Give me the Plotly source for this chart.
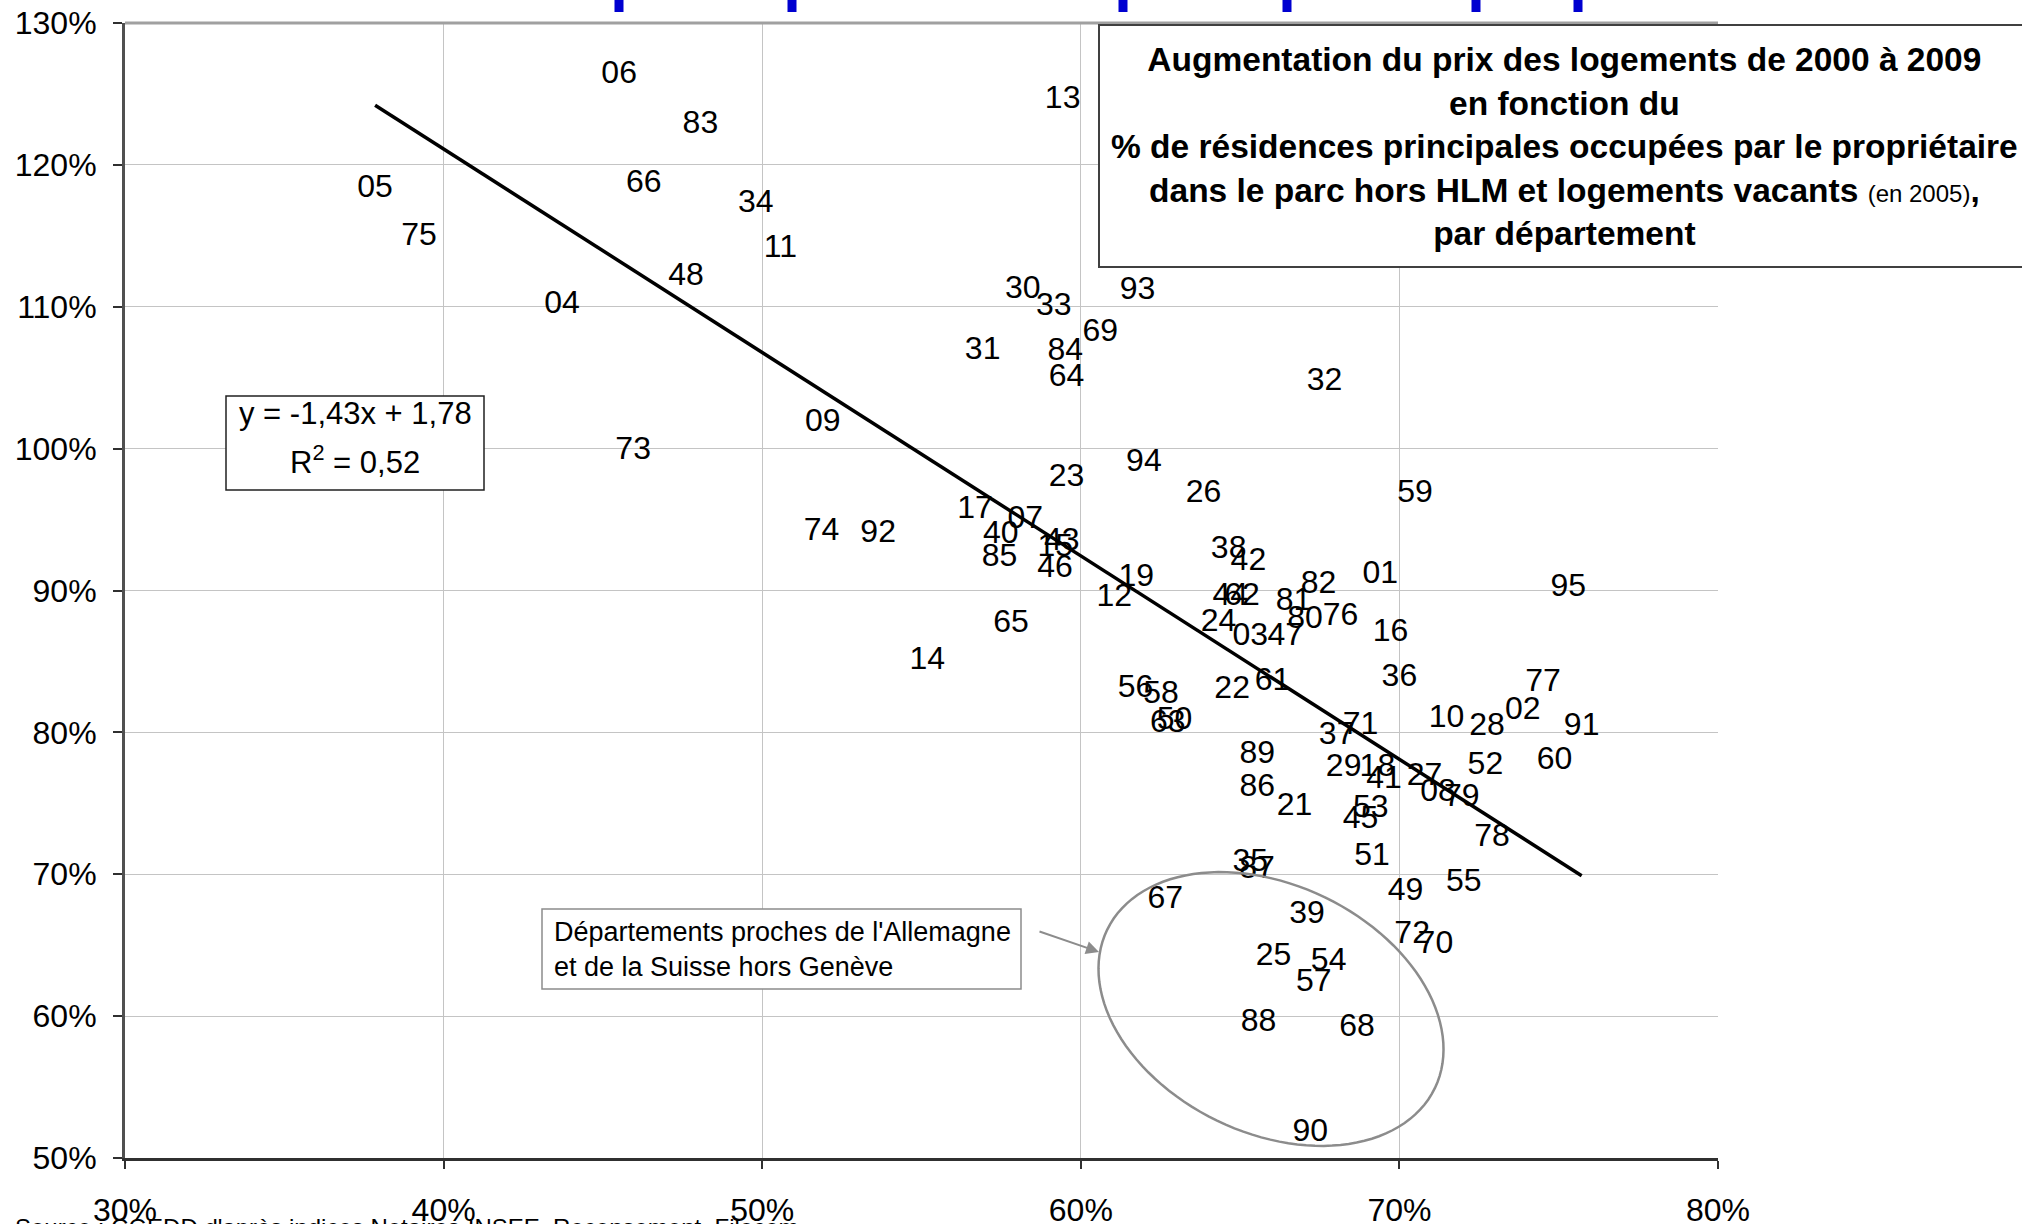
import numpy as np
import plotly.graph_objects as go

# ---------------- data ----------------
DEPTS = ["01", "02", "03", "04", "05", "06", "07", "08", "09", "10",
         "11", "12", "13", "14", "15", "16", "17", "18", "19", "21",
         "22", "23", "24", "25", "26", "27", "28", "29", "30", "31",
         "32", "33", "34", "35", "36", "37", "38", "39", "40", "41",
         "42", "43", "44", "45", "46", "47", "48", "49", "50", "51",
         "52", "53", "54", "55", "56", "57", "58", "59", "60", "61",
         "62", "63", "64", "65", "66", "67", "68", "69", "70", "71",
         "72", "73", "74", "75", "76", "77", "78", "79", "80", "81",
         "82", "83", "84", "85", "86", "87", "88", "89", "90", "91",
         "92", "93", "94", "95"]

OWNER_PCT = [69.40, 73.87, 65.32, 43.72, 37.85, 45.51, 58.26, 71.21, 51.90, 71.48,
             50.57, 61.05, 59.43, 55.18, 59.20, 69.72, 56.68, 69.31, 61.74, 66.71,
             64.75, 59.55, 64.32, 66.05, 63.85, 70.79, 72.75, 68.25, 58.18, 56.92,
             67.65, 59.15, 49.80, 65.32, 70.00, 68.03, 64.64, 67.10, 57.49, 69.52,
             65.26, 59.40, 64.69, 68.78, 59.19, 66.42, 47.61, 70.19, 62.94, 69.14,
             72.70, 69.10, 67.78, 72.02, 61.72, 67.31, 62.52, 70.49, 74.87, 66.02,
             65.06, 62.73, 59.55, 57.81, 46.28, 62.65, 68.67, 60.61, 71.13, 68.78,
             70.40, 45.95, 51.86, 39.23, 68.15, 74.51, 72.91, 71.96, 67.04, 66.68,
             67.46, 48.06, 59.51, 57.45, 65.54, 65.53, 65.58, 65.54, 67.20, 75.72,
             53.64, 61.78, 61.98, 75.30]

PRICE_RISE_PCT = [91.10, 81.54, 86.75, 110.09, 118.27, 126.36, 95.00, 75.70, 101.82, 80.94,
                  114.09, 89.45, 124.55, 85.00, 92.98, 86.99, 95.64, 77.48, 90.91, 74.75,
                  82.96, 97.91, 87.69, 64.19, 96.82, 76.88, 80.35, 77.48, 111.18, 106.91,
                  104.73, 110.00, 117.27, 70.77, 83.80, 79.75, 92.86, 67.13, 93.91, 76.65,
                  92.04, 93.45, 89.57, 73.79, 91.55, 86.75, 112.09, 68.77, 80.82, 71.24,
                  77.60, 74.63, 63.84, 69.36, 83.08, 62.31, 82.60, 96.82, 77.95, 83.55,
                  89.57, 80.58, 105.00, 87.64, 118.64, 68.18, 59.14, 108.18, 65.02, 80.45,
                  65.72, 99.82, 94.09, 114.91, 88.16, 83.45, 72.54, 75.35, 87.93, 89.22,
                  90.39, 122.82, 106.82, 92.27, 76.05, 70.30, 59.49, 78.44, 51.74, 80.35,
                  94.00, 111.09, 99.00, 90.18]

X_TICKS = [30, 40, 50, 60, 70, 80]
Y_TICKS = [50, 60, 70, 80, 90, 100, 110, 120, 130]
X_TICK_LABELS = ["30%", "40%", "50%", "60%", "70%", "80%"]
Y_TICK_LABELS = ["50%", "60%", "70%", "80%", "90%", "100%", "110%", "120%", "130%"]

# linear trend (unrounded estimates consistent with the displayed equation)
TREND_SLOPE = -1.434
TREND_INTERCEPT = 1.7848
EQ_LINE1 = "y = -1,43x + 1,78"
EQ_LINE2 = "R<sup>2</sup> = 0,52"

TITLE_LINES = [
    "<b>Augmentation du prix des logements de 2000 à 2009</b>",
    "<b>en fonction du</b>",
    "<b>% de résidences principales occupées par le propriétaire</b>",
    "<b>dans le parc hors HLM et logements vacants</b> "
    "<span style='font-size:24px'>(en 2005)</span><b>,</b>",
    "<b>par département</b>",
]
NOTE_TEXT = "Départements proches de l'Allemagne<br>et de la Suisse hors Genève"
SOURCE_TEXT = "Source : CGEDD d'après indices Notaires-INSEE, Recensement, Filocom"

# ---------------- layout geometry ----------------
W, H = 2022, 1224
L, R, T, B = 125, 1718, 23, 1158
XR = [30, 80]
YR = [50, 130]
FONT = "Liberation Sans, Arial, sans-serif"


def px_x(p):
    return XR[0] + (p - L) / (R - L) * (XR[1] - XR[0])


def px_y(p):
    return YR[1] - (p - T) / (B - T) * (YR[1] - YR[0])


def paper_x(p):
    return (p - L) / (R - L)


def paper_y(p):
    return (B - p) / (B - T)


fig = go.Figure()

# trend line
x_lo, x_hi = min(OWNER_PCT), max(OWNER_PCT)
tx = np.array([x_lo, x_hi])
ty = 100 * (TREND_SLOPE * tx / 100 + TREND_INTERCEPT)
fig.add_trace(go.Scatter(x=tx, y=ty, mode="lines",
                         line=dict(color="black", width=3.5),
                         hoverinfo="skip", showlegend=False))

# labelled points
fig.add_trace(go.Scatter(x=OWNER_PCT, y=PRICE_RISE_PCT, mode="text",
                         text=DEPTS, textposition="middle center",
                         textfont=dict(family=FONT, size=32, color="black"),
                         showlegend=False, cliponaxis=False))

shapes = []
annotations = []

# top border of plot area
shapes.append(dict(type="line", xref="paper", yref="paper", x0=0, x1=1, y0=1, y1=1,
                   line=dict(color="#a0a0a0", width=3)))

# ellipse (rotated) around the eastern departments
cx, cy, a, b, th = 1271, 1009, 182, 124, np.deg2rad(25.8)
t = np.linspace(0, 2 * np.pi, 121)
ex = cx + a * np.cos(t) * np.cos(th) - b * np.sin(t) * np.sin(th)
ey = cy + a * np.cos(t) * np.sin(th) + b * np.sin(t) * np.cos(th)
path = "M " + " L ".join(f"{px_x(u):.4f},{px_y(v):.4f}" for u, v in zip(ex, ey)) + " Z"
shapes.append(dict(type="path", xref="x", yref="y", path=path,
                   line=dict(color="#8c8c8c", width=2.5), layer="above"))

# equation box
shapes.append(dict(type="rect", xref="x", yref="y",
                   x0=px_x(226), x1=px_x(484), y0=px_y(396), y1=px_y(490),
                   fillcolor="white", line=dict(color="#202020", width=1.5), layer="above"))
annotations.append(dict(x=px_x(355), y=px_y(413), xref="x", yref="y", text=EQ_LINE1,
                        showarrow=False, font=dict(family=FONT, size=31, color="black"),
                        xanchor="center", yanchor="middle"))
annotations.append(dict(x=px_x(355), y=px_y(460), xref="x", yref="y", text=EQ_LINE2,
                        showarrow=False, font=dict(family=FONT, size=31, color="black"),
                        xanchor="center", yanchor="middle"))

# note box
shapes.append(dict(type="rect", xref="x", yref="y",
                   x0=px_x(542), x1=px_x(1021), y0=px_y(909), y1=px_y(989),
                   fillcolor="white", line=dict(color="#8c8c8c", width=1.5), layer="above"))
annotations.append(dict(x=px_x(552), y=px_y(949), xref="x", yref="y", text=NOTE_TEXT,
                        showarrow=False, align="left",
                        font=dict(family=FONT, size=27, color="black"),
                        xanchor="left", yanchor="middle"))
# arrow from note to ellipse
annotations.append(dict(x=px_x(1099), y=px_y(952), ax=px_x(1038), ay=px_y(931),
                        xref="x", yref="y", axref="x", ayref="y", text="",
                        showarrow=True, arrowhead=2, arrowsize=1.3, arrowwidth=2,
                        arrowcolor="#8c8c8c"))

# title box
shapes.append(dict(type="rect", xref="paper", yref="paper",
                   x0=paper_x(1099), x1=paper_x(2060), y0=paper_y(25), y1=paper_y(267),
                   fillcolor="white", line=dict(color="#404040", width=2), layer="above"))
annotations.append(dict(x=paper_x(1564), y=paper_y(146), xref="paper", yref="paper",
                        text="<br>".join(TITLE_LINES), showarrow=False, align="center",
                        font=dict(family=FONT, size=33.5, color="black"),
                        xanchor="center", yanchor="middle"))

# blue marks cut at the top edge
for bx in [619, 792, 1123, 1287, 1476, 1578]:
    shapes.append(dict(type="rect", xref="paper", yref="paper",
                       x0=paper_x(bx - 4.5), x1=paper_x(bx + 4.5),
                       y0=paper_y(12), y1=paper_y(-2),
                       fillcolor="#0000d0", line=dict(width=0), layer="above"))

# source (cut at bottom edge)
annotations.append(dict(x=paper_x(13), y=paper_y(1212), xref="paper", yref="paper",
                        text=SOURCE_TEXT, showarrow=False,
                        font=dict(family=FONT, size=24, color="black"),
                        xanchor="left", yanchor="top"))

fig.update_layout(
    width=W, height=H, autosize=False,
    margin=dict(l=L, r=W - R, t=T, b=H - B, pad=0, autoexpand=False),
    paper_bgcolor="white", plot_bgcolor="white",
    shapes=shapes, annotations=annotations,
    showlegend=False,
    font=dict(family=FONT, color="black"),
)
fig.update_xaxes(range=XR, tickmode="array", tickvals=X_TICKS, ticktext=X_TICK_LABELS,
                 showgrid=True, gridcolor="#c4c4c4", gridwidth=1.3,
                 showline=True, linecolor="#303030", linewidth=2.5,
                 ticks="outside", ticklen=8, tickcolor="#303030", tickwidth=2,
                 tickfont=dict(family=FONT, size=32, color="black"),
                 ticklabelstandoff=14, zeroline=False, fixedrange=True, automargin=False)
fig.update_yaxes(range=YR, tickmode="array", tickvals=Y_TICKS, ticktext=Y_TICK_LABELS,
                 showgrid=True, gridcolor="#c4c4c4", gridwidth=1.3,
                 showline=True, linecolor="#505050", linewidth=3,
                 ticks="outside", ticklen=9, tickcolor="#303030", tickwidth=2,
                 tickfont=dict(family=FONT, size=32, color="black"),
                 ticklabelstandoff=10, zeroline=False, fixedrange=True, automargin=False)

fig.write_html("out.html", config={"displayModeBar": False},
               post_script="document.body.style.margin='0';document.body.style.overflow='hidden';")
